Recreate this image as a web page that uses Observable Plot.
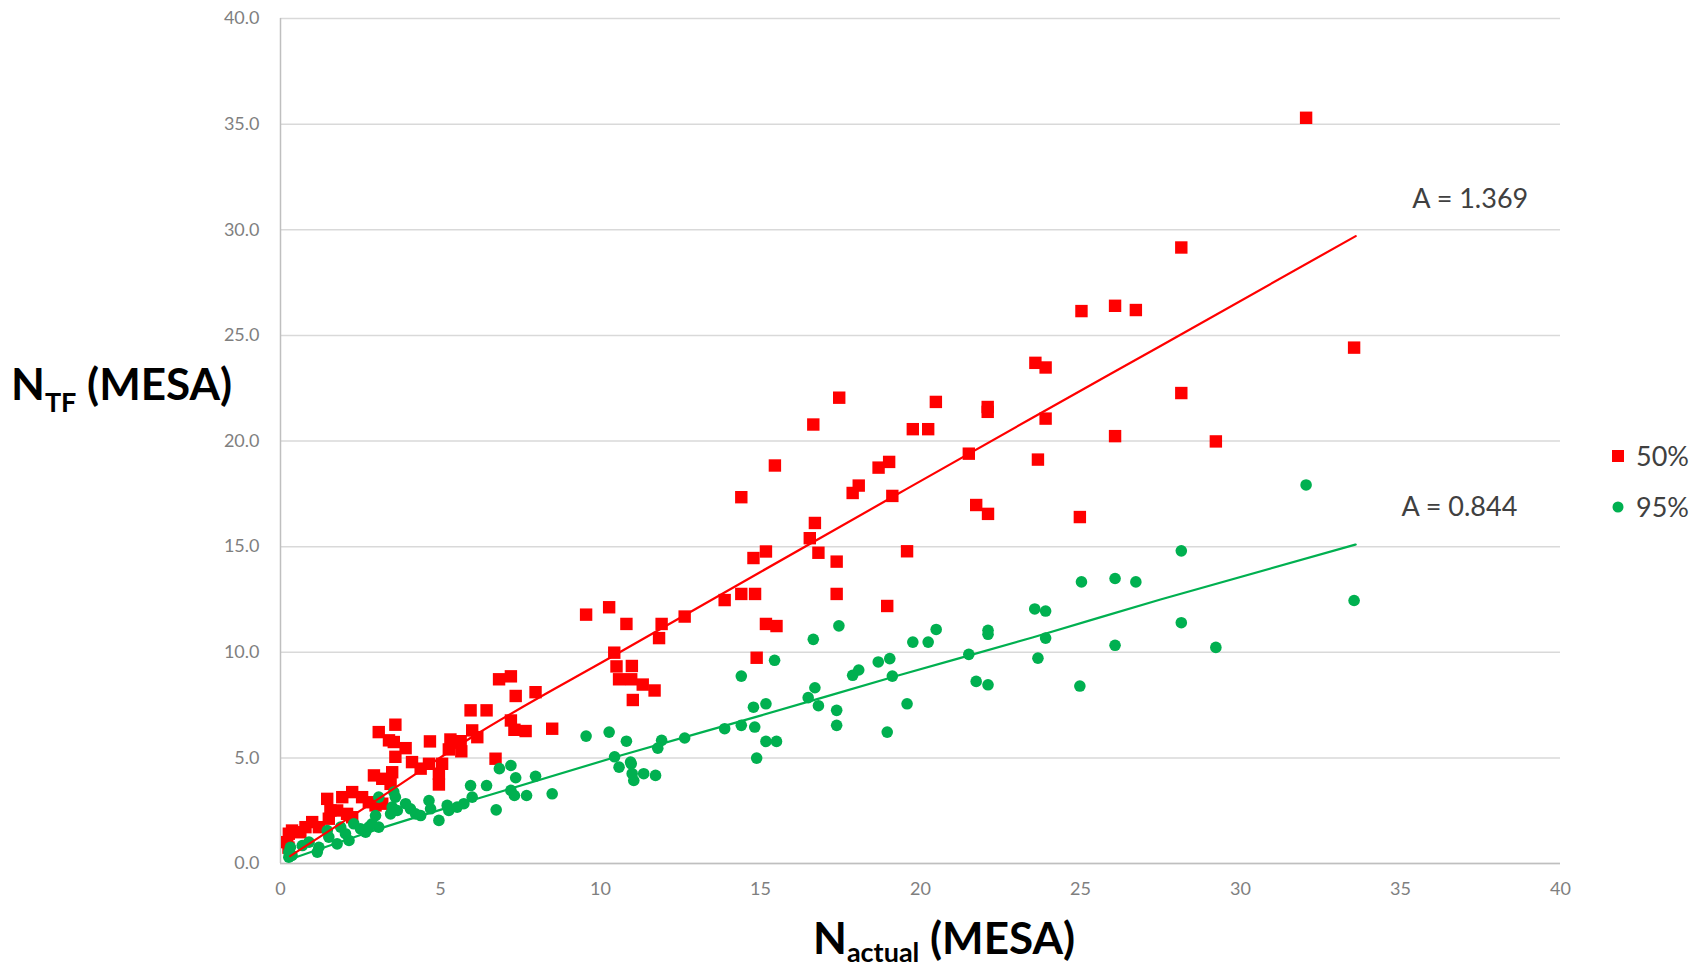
<!DOCTYPE html>
<html>
<head>
<meta charset="utf-8">
<script src="https://cdn.jsdelivr.net/npm/d3@7"></script>
<script src="https://cdn.jsdelivr.net/npm/@observablehq/plot@0.6"></script>
<style>
  body { margin: 0; background: #fff; }
  #wrap { position: relative; width: 1702px; height: 971px; }
  #overlay { position: absolute; left: 0; top: 0; pointer-events: none; }
</style>
</head>
<body>
<div id="wrap">
  <div id="chart"></div>
  <svg id="overlay" width="1702" height="971"></svg>
</div>
<script>
// ---- Data ----
const xTicks = [0, 5, 10, 15, 20, 25, 30, 35, 40];
const yTicks = [0, 5, 10, 15, 20, 25, 30, 35, 40];

const seriesNames = ["50%", "95%"];
const seriesColors = ["#ff0000", "#00b050"];

// 50% series (red squares)
const redX = [33.55, 32.05, 29.23, 28.15, 28.15, 26.73, 26.08, 26.08, 25.03, 24.98,
  23.91, 23.59, 23.91, 23.67, 22.10, 22.10, 22.11, 21.74, 21.51, 20.48,
  20.24, 19.76, 19.58, 19.12, 19.02, 18.69, 18.96, 18.07, 17.88, 17.46,
  17.38, 17.38, 16.81, 16.70, 16.54, 16.65, 15.45, 15.17, 14.78, 14.40,
  14.40, 14.83, 13.88, 15.17, 15.50, 14.88, 12.63, 11.91, 11.83, 10.81,
  10.27, 9.55, 10.43, 10.50, 10.98, 10.58, 10.96, 11.32, 11.69, 11.01,
  8.49, 7.97, 7.66, 7.35, 7.20, 6.83, 7.20, 7.31, 6.72, 6.44,
  5.94, 5.99, 6.15, 5.31, 5.63, 5.65, 5.26, 4.95, 4.95, 5.05,
  4.67, 4.64, 4.38, 4.11, 3.91, 3.59, 3.07, 3.39, 3.54, 3.59,
  3.49, 3.18, 2.92, 3.44, 2.24, 1.93, 2.55, 2.76, 2.97, 3.18,
  1.46, 2.08, 2.24, 1.77, 1.56, 1.51, 0.99, 1.20, 0.36, 0.26,
  0.62, 0.78, 0.21, 0.25];
const redY = [24.42, 35.30, 19.98, 29.16, 22.27, 26.20, 26.40, 20.23, 26.15, 16.40,
  23.48, 23.70, 21.06, 19.12, 21.61, 21.38, 16.55, 16.97, 19.40, 21.85,
  20.56, 20.56, 14.78, 17.40, 19.01, 18.74, 12.19, 17.89, 17.54, 22.05,
  14.29, 12.76, 14.71, 16.12, 15.40, 20.78, 18.84, 14.77, 14.46, 17.34,
  12.76, 12.76, 12.47, 11.34, 11.24, 9.74, 11.69, 11.34, 10.67, 11.34,
  12.13, 11.78, 9.98, 9.33, 9.35, 8.72, 8.72, 8.47, 8.19, 7.74,
  6.38, 8.11, 6.27, 7.93, 8.86, 8.72, 6.77, 6.33, 4.96, 7.25,
  7.25, 6.30, 5.98, 5.87, 5.79, 5.31, 5.40, 4.25, 3.74, 4.72,
  5.78, 4.72, 4.49, 4.80, 5.46, 6.57, 6.22, 5.83, 5.75, 5.05,
  4.32, 4.01, 4.17, 3.77, 3.38, 3.14, 3.14, 2.90, 2.75, 2.83,
  3.06, 2.35, 2.19, 2.51, 2.51, 2.12, 1.96, 1.72, 1.56, 1.41,
  1.48, 1.72, 1.01, 0.75];

// 95% series (green circles)
const greenX = [33.55, 32.05, 29.23, 28.15, 28.15, 26.73, 26.08, 26.08, 25.03, 24.98,
  23.57, 23.91, 23.91, 23.67, 22.11, 22.11, 22.11, 21.74, 21.51, 20.49,
  20.24, 19.76, 19.58, 19.12, 19.04, 18.68, 18.96, 18.07, 17.88, 17.45,
  17.38, 17.38, 16.81, 16.70, 16.49, 16.65, 15.44, 15.17, 14.78, 14.40,
  14.40, 14.82, 13.88, 15.17, 15.50, 14.88, 12.63, 11.91, 11.79, 10.81,
  10.27, 9.55, 10.44, 10.94, 10.58, 10.96, 10.99, 11.04, 11.35, 11.72,
  8.49, 7.97, 7.69, 7.35, 7.20, 6.84, 7.20, 7.31, 6.44, 5.94,
  6.74, 5.99, 5.52, 5.73, 5.21, 5.26, 4.64, 4.69, 4.95, 3.91,
  4.06, 4.22, 4.38, 3.49, 3.44, 3.65, 3.07, 3.54, 3.59, 2.97,
  2.86, 3.07, 2.29, 2.50, 2.66, 2.76, 1.88, 2.03, 2.14, 1.46,
  1.51, 1.77, 1.20, 1.15, 0.89, 0.68, 0.31, 0.26, 0.26, 0.36];
const greenY = [12.45, 17.92, 10.23, 14.80, 11.40, 13.33, 13.49, 10.33, 13.33, 8.40,
  12.05, 11.95, 10.67, 9.72, 11.04, 10.85, 8.46, 8.62, 9.90, 11.08,
  10.48, 10.48, 7.56, 8.87, 9.70, 9.54, 6.22, 9.16, 8.91, 11.25,
  7.25, 6.54, 7.47, 8.32, 7.85, 10.61, 9.62, 7.56, 7.40, 8.87,
  6.54, 6.46, 6.38, 5.78, 5.78, 4.99, 5.94, 5.83, 5.46, 5.79,
  6.22, 6.03, 5.05, 4.80, 4.56, 4.72, 4.25, 3.93, 4.25, 4.17,
  3.30, 4.13, 3.22, 4.06, 4.64, 4.49, 3.46, 3.22, 3.69, 3.69,
  2.54, 3.14, 2.67, 2.83, 2.75, 2.51, 2.98, 2.59, 2.04, 2.83,
  2.59, 2.35, 2.27, 2.67, 2.35, 2.51, 3.14, 3.38, 3.14, 2.27,
  1.88, 1.72, 1.88, 1.64, 1.48, 1.72, 1.72, 1.41, 1.09, 1.56,
  1.25, 0.93, 0.77, 0.54, 1.01, 0.85, 0.77, 0.54, 0.30, 0.38];

// Trend lines
const trendX = [0.3, 3, 6, 10.6, 15, 19.3, 23.5, 27.5, 33.6];
const trendRedY = [0.35, 3.0, 6.0, 10.0, 13.8, 17.5, 21.1, 24.5, 29.7];
const trendGreenY = [0.2, 1.6, 3.0, 5.1, 7.0, 8.9, 10.7, 12.5, 15.1];

// Annotations
const annotText = ["A = 1.369", "A = 0.844"];
const annotX = [35.37, 35.03];
const annotY = [31.45, 16.85];

// ---- Build tables ----
const red = redX.map((x, i) => ({x, y: redY[i]}));
const green = greenX.map((x, i) => ({x, y: greenY[i]}));
const trendRed = trendX.map((x, i) => ({x, y: trendRedY[i]}));
const trendGreen = trendX.map((x, i) => ({x, y: trendGreenY[i]}));
const annots = annotText.map((t, i) => ({t, x: annotX[i], y: annotY[i]}));

const chart = Plot.plot({
  width: 1702,
  height: 971,
  marginLeft: 280,
  marginRight: 142,
  marginTop: 18,
  marginBottom: 108,
  style: {fontFamily: "Lato, 'Open Sans', sans-serif", background: "#fff", overflow: "visible"},
  x: {domain: [0, 40]},
  y: {domain: [0, 40]},
  marks: [
    Plot.gridY({ticks: yTicks, stroke: "#d9d9d9", strokeOpacity: 1, strokeWidth: 1.5}),
    Plot.ruleX([0], {stroke: "#bfbfbf", strokeWidth: 1.5}),
    Plot.ruleY([0], {stroke: "#bfbfbf", strokeWidth: 1.5}),
    Plot.axisX({ticks: xTicks, tickSize: 0, tickPadding: 19, label: null,
      tickFormat: d => String(d), fontSize: 18, fill: "#7f7f7f"}),
    Plot.axisY({ticks: yTicks, tickSize: 0, tickPadding: 21, label: null,
      tickFormat: d => d.toFixed(1), fontSize: 18, fill: "#7f7f7f"}),
    Plot.dot(red, {x: "x", y: "y", symbol: "square", r: 7, fill: seriesColors[0]}),
    Plot.dot(green, {x: "x", y: "y", symbol: "circle", r: 5.8, fill: seriesColors[1]}),
    Plot.line(trendRed, {x: "x", y: "y", stroke: seriesColors[0], strokeWidth: 2.2, curve: "monotone-x"}),
    Plot.line(trendGreen, {x: "x", y: "y", stroke: seriesColors[1], strokeWidth: 2.2, curve: "monotone-x"}),
    Plot.text(annots, {x: "x", y: "y", text: "t", textAnchor: "start", fontSize: 27, fill: "#404040"})
  ]
});
document.getElementById("chart").appendChild(chart);

// ---- Titles and legend overlay ----
const ov = d3.select("#overlay");
const ff = "Lato, 'Open Sans', sans-serif";

// Y title
const yt = ov.append("text").attr("x", 11).attr("y", 400)
  .attr("font-family", ff).attr("font-weight", 700).attr("font-size", 44).attr("fill", "#000");
yt.append("tspan").text("N");
yt.append("tspan").attr("font-size", 27).attr("dy", 12).text("TF");
yt.append("tspan").attr("dy", -12).text(" (MESA)");

// X title
const xt = ov.append("text").attr("x", 813).attr("y", 954)
  .attr("font-family", ff).attr("font-weight", 700).attr("font-size", 44).attr("fill", "#000");
xt.append("tspan").text("N");
xt.append("tspan").attr("font-size", 27).attr("dy", 8).text("actual");
xt.append("tspan").attr("dy", -8).text(" (MESA)");

// Legend
const legY = [456, 507];
seriesNames.forEach((name, i) => {
  if (i === 0) {
    ov.append("rect").attr("x", 1612).attr("y", legY[i] - 6).attr("width", 12).attr("height", 12)
      .attr("fill", seriesColors[i]);
  } else {
    ov.append("circle").attr("cx", 1618).attr("cy", legY[i]).attr("r", 5.5).attr("fill", seriesColors[i]);
  }
  ov.append("text").attr("x", 1636).attr("y", legY[i]).attr("dy", "0.36em")
    .attr("font-family", ff).attr("font-size", 27).attr("fill", "#404040").text(name);
});
</script>
</body>
</html>
